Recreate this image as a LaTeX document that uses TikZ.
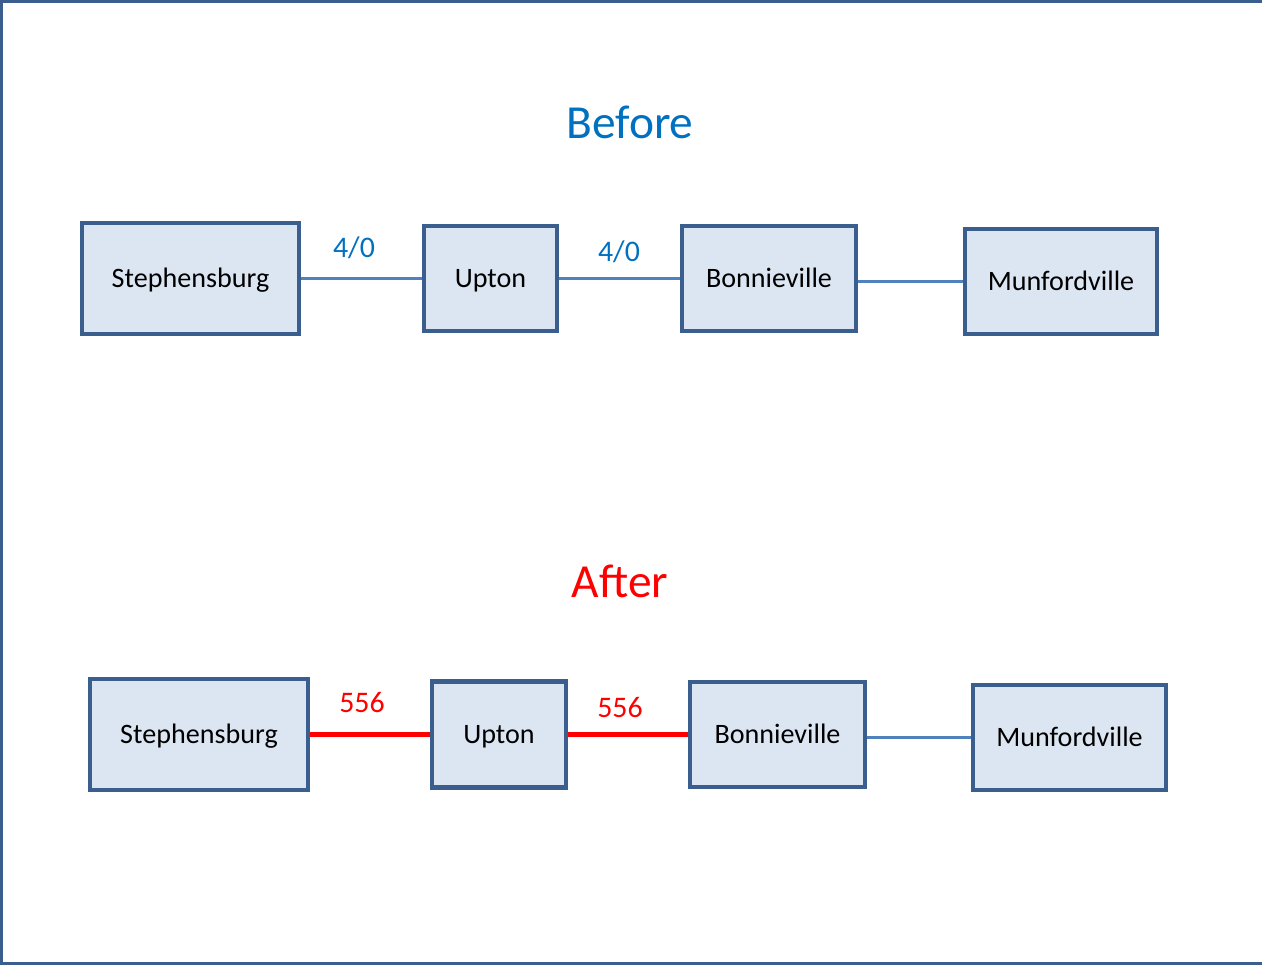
\documentclass[tikz,border=0pt]{standalone}
\usepackage{fontspec}
\setmainfont{Carlito}
\usepackage{tikz}

\definecolor{boxline}{HTML}{3A5F8E}
\definecolor{boxfill}{HTML}{DCE6F2}
\definecolor{wireblue}{HTML}{4F81BD}
\definecolor{textblue}{HTML}{0070C0}
\definecolor{wirered}{HTML}{FF0000}

\begin{document}
\begin{tikzpicture}[
	station/.style={draw=boxline,fill=boxfill,line width=2.6pt,inner sep=0pt,
		text height=10pt,text depth=0pt,font=\fontsize{16}{18}\selectfont},
	wire/.style={draw=wireblue,line width=2pt},
	newwire/.style={draw=wirered,line width=2.4pt},
	wirelabel/.style={font=\fontsize{17}{19}\selectfont},
	heading/.style={font=\fontsize{27}{31}\selectfont}
]
	\useasboundingbox (0,0) rectangle (25.24,19.30);
	\draw[boxline,line width=1.7pt] (25.6,0.03) -- (0.03,0.03) -- (0.03,19.27) -- (25.6,19.27);
	%\draw[very thin,color=gray,step=1] (0,0) grid (25.24,19.30);
	\node[heading,text=textblue] (before) at (12.60,16.86) {Before};
	\node[heading,text=wirered] (after) at (12.40,7.68) {After};
    \node[station,minimum width=4.34cm,minimum height=2.22cm] (s1) at (3.81,13.73) {Stephensburg};
    \node[station,minimum width=2.66cm,minimum height=2.10cm] (u1) at (9.81,13.73) {Upton};
    \node[station,minimum width=3.48cm,minimum height=2.10cm] (b1) at (15.38,13.73) {Bonnieville};
    \node[station,minimum width=3.84cm,minimum height=2.10cm] (m1) at (21.22,13.67) {Munfordville};
    \node[station,minimum width=4.36cm,minimum height=2.22cm] (s2) at (3.98,4.61) {Stephensburg};
    \node[station,minimum width=2.68cm,minimum height=2.12cm] (u2) at (9.98,4.61) {Upton};
    \node[station,minimum width=3.50cm,minimum height=2.10cm] (b2) at (15.55,4.61) {Bonnieville};
    \node[station,minimum width=3.86cm,minimum height=2.10cm] (m2) at (21.39,4.55) {Munfordville};
    \draw[wire] (s1.east) -- (u1.west);
    \draw[wire] (u1.east) -- (b1.west);
    \draw[wire] (b1.east |- m1.west) -- (m1.west);
    \draw[newwire] (s2.east) -- (u2.west);
    \draw[newwire] (u2.east) -- (b2.west);
    \draw[wire] (b2.east |- m2.west) -- (m2.west);
    \node[wirelabel,text=textblue] (l1) at (7.08,14.34) {4/0};
    \node[wirelabel,text=textblue] (l2) at (12.38,14.26) {4/0};
    \node[wirelabel,text=wirered] (l3) at (7.24,5.24) {556};
    \node[wirelabel,text=wirered] (l4) at (12.40,5.14) {556};
\end{tikzpicture}
\end{document}
